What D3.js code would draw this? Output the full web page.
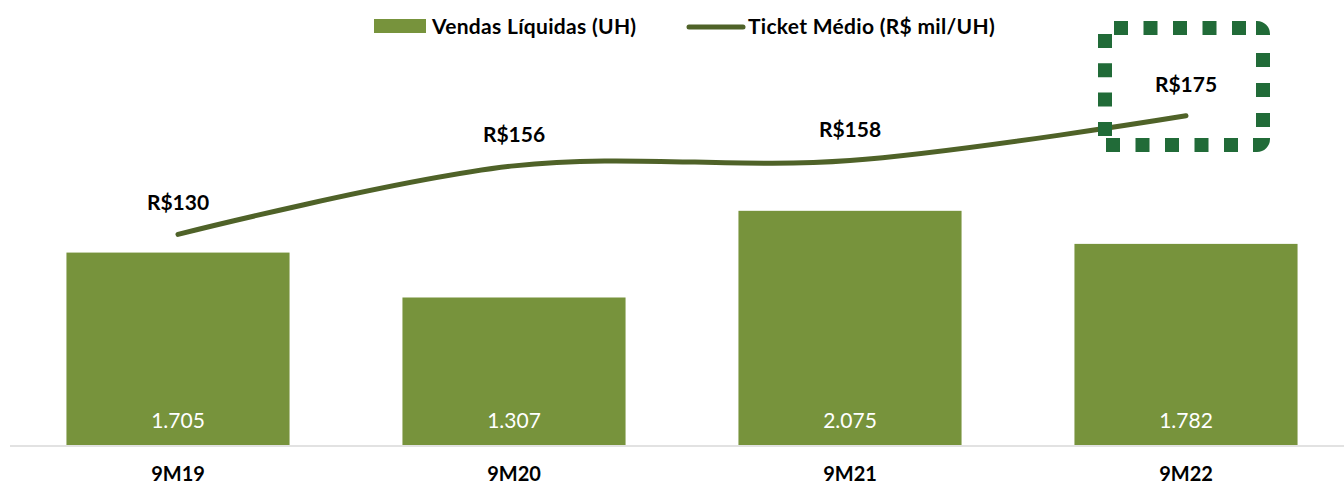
<!DOCTYPE html>
<html>
<head>
<meta charset="utf-8">
<script src="https://cdn.jsdelivr.net/npm/d3@7"></script>
<style>
  html, body { margin: 0; padding: 0; background: #fff; }
  svg { display: block; }
  text { font-family: Lato, "Open Sans", sans-serif; }
</style>
</head>
<body>
<svg id="chart" width="1344" height="485"></svg>
<script>
// ---- data ----
const categories = ["9M19", "9M20", "9M21", "9M22"];
const vendas = [1705, 1307, 2075, 1782];
const ticket = [130, 156, 158, 175];
const vendasLabels = ["1.705", "1.307", "2.075", "1.782"];
const ticketLabels = ["R$130", "R$156", "R$158", "R$175"];
const legendLabels = ["Vendas Líquidas (UH)", "Ticket Médio (R$ mil/UH)"];

// ---- styles ----
const barColor = "#77933C";
const lineColor = "#4F6228";
const boxColor = "#216B38";

const svg = d3.select("#chart");
const W = 1344, H = 485;
const baseY = 445, topY = 50;

const x = d3.scaleBand().domain(categories).range([10, 1354]).paddingInner(0.336).paddingOuter(0.168);
const yBar = d3.scaleLinear().domain([0, 3500]).range([baseY, topY]);
const yLine = d3.scaleLinear().domain([50, 200]).range([baseY, topY]);

// bars
svg.append("g").selectAll("rect").data(categories).join("rect")
  .attr("x", d => x(d))
  .attr("width", x.bandwidth())
  .attr("y", (d, i) => yBar(vendas[i]))
  .attr("height", (d, i) => baseY - yBar(vendas[i]))
  .attr("fill", barColor);

// axis line
svg.append("line")
  .attr("x1", 10).attr("x2", W)
  .attr("y1", baseY + 1).attr("y2", baseY + 1)
  .attr("stroke", "#D9D9D9").attr("stroke-width", 1.5);

// bar value labels
svg.append("g").selectAll("text").data(categories).join("text")
  .attr("x", d => x(d) + x.bandwidth() / 2)
  .attr("y", 428)
  .attr("text-anchor", "middle")
  .attr("fill", "#fff")
  .attr("font-size", 21)
  .text((d, i) => vendasLabels[i]);

// category labels
svg.append("g").selectAll("text").data(categories).join("text")
  .attr("x", d => x(d) + x.bandwidth() / 2)
  .attr("y", 481)
  .attr("text-anchor", "middle")
  .attr("font-weight", "bold")
  .attr("font-size", 20)
  .attr("fill", "#000")
  .text(d => d);

// line
const cx = d => x(d) + x.bandwidth() / 2;
const line = d3.line()
  .x((d, i) => cx(categories[i]))
  .y(d => yLine(d))
  .curve(d3.curveCardinal.tension(0));
svg.append("path")
  .datum(ticket)
  .attr("d", line)
  .attr("fill", "none")
  .attr("stroke", lineColor)
  .attr("stroke-width", 5)
  .attr("stroke-linecap", "round");

// line labels
svg.append("g").selectAll("text").data(ticket).join("text")
  .attr("x", (d, i) => cx(categories[i]))
  .attr("y", d => yLine(d) - 24)
  .attr("text-anchor", "middle")
  .attr("font-weight", "bold")
  .attr("font-size", 21)
  .attr("fill", "#000")
  .text((d, i) => ticketLabels[i]);

// highlight box (dotted, rounded right corners)
const box = svg.append("g").attr("fill", "none").attr("stroke", boxColor).attr("stroke-width", 14);
box.append("path").attr("d", "M1114,28 H1247").attr("stroke-dasharray", "14 15.5");
box.append("path").attr("d", "M1256,28 H1257 A6,6 0 0 1 1263,34 V35");
box.append("path").attr("d", "M1263,53 V127").attr("stroke-dasharray", "14 16");
box.append("path").attr("d", "M1263,138 V139 A6,6 0 0 1 1257,145 H1253");
box.append("path").attr("d", "M1106,145 H1238").attr("stroke-dasharray", "14 15.5");
box.append("path").attr("d", "M1105,34 V136").attr("stroke-dasharray", "14 15.3");

// legend
const lg = svg.append("g");
lg.append("rect").attr("x", 374).attr("y", 19).attr("width", 52).attr("height", 14).attr("fill", barColor);
lg.append("text").attr("x", 432).attr("y", 34).attr("font-weight", "bold").attr("font-size", 21).attr("letter-spacing", 0.3).attr("fill", "#000").text(legendLabels[0]);
lg.append("line").attr("x1", 689).attr("x2", 743).attr("y1", 27).attr("y2", 27)
  .attr("stroke", lineColor).attr("stroke-width", 5).attr("stroke-linecap", "round");
lg.append("text").attr("x", 748).attr("y", 34).attr("font-weight", "bold").attr("font-size", 21).attr("letter-spacing", 0.3).attr("fill", "#000").text(legendLabels[1]);
</script>
</body>
</html>
